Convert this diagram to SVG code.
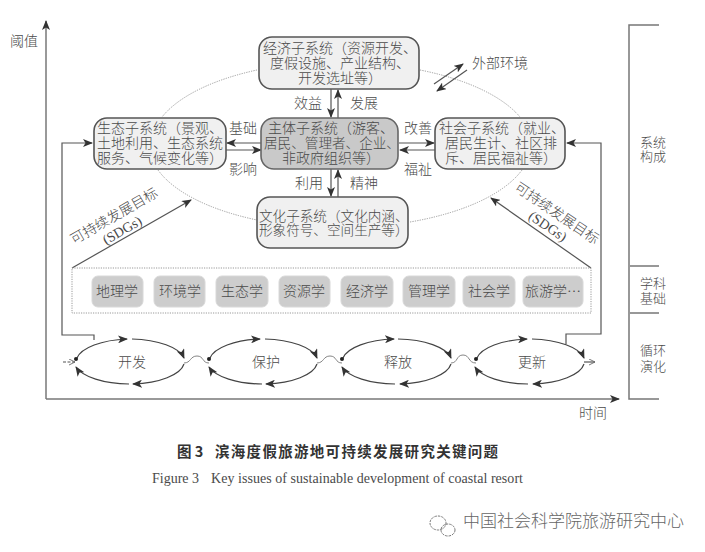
<svg xmlns="http://www.w3.org/2000/svg" width="705" height="552" viewBox="0 0 705 552">
<style>
text{font-family:"Noto Sans CJK SC","Liberation Serif",serif;fill:#4a4a4a;font-size:14px;font-weight:300}
.c{text-anchor:middle}
.s{font-family:"Liberation Serif",serif}
.box{fill:#f0f0f0;stroke:#555;stroke-width:1.6}
.dis{fill:#cdcdcd;stroke:#d8d8d8;stroke-width:1}
.ln{fill:none;stroke:#555;stroke-width:1.2}
.cy{fill:none;stroke:#444;stroke-width:1.2}
.bp{fill:none;stroke:#777;stroke-width:.9}
.dot{fill:none;stroke:#999;stroke-width:1;stroke-dasharray:1.2 1.2}
.ax{fill:none;stroke:#777;stroke-width:1.5}
</style>
<defs>
<marker id="a" viewBox="0 0 10 8" refX="9" refY="4" markerWidth="10" markerHeight="8" markerUnits="userSpaceOnUse" orient="auto"><path d="M0 0L10 4L0 8L2.5 4Z" fill="#333"/></marker>
<marker id="o" viewBox="0 0 8 8" refX="7" refY="4" markerWidth="7" markerHeight="7" markerUnits="userSpaceOnUse" orient="auto"><path d="M0 0.5L7 4L0 7.5" fill="none" stroke="#666"/></marker>
<path id="cyc" d="M1 -3.5A56 23 0 0 1 51 -23M56 -23A56 23 0 0 1 108 -4M108 2A56 23 0 0 1 59 22M53 22A56 23 0 0 1 0 6"/>
</defs>
<g id="connectors">
<path class="dot" d="M257 70A190 83 0 0 0 162 117M158 170A190 83 0 0 0 257 220M420 70A190 83 0 0 1 520 117M522 170A190 83 0 0 1 410 222"/>
<path class="ax" d="M46 399V21" marker-end="url(#a)"/>
<path class="ax" d="M46 399H619" marker-end="url(#a)"/>
<path class="ln" d="M331 89V117" marker-end="url(#a)"/><path class="ln" d="M338 118V90" marker-end="url(#a)"/>
<path class="ln" d="M261 143H227" marker-end="url(#a)"/><path class="ln" d="M226 150H261" marker-end="url(#a)"/>
<path class="ln" d="M399 143H434" marker-end="url(#a)"/><path class="ln" d="M435 150H400" marker-end="url(#a)"/>
<path class="ln" d="M331 169V196" marker-end="url(#a)"/><path class="ln" d="M338 197V170" marker-end="url(#a)"/>
<path class="ln" d="M434 84L463 64" marker-end="url(#a)"/><path class="ln" d="M467 70L437 91" marker-end="url(#a)"/>
<path class="ln" d="M94 340V335H62V143H92" marker-end="url(#a)"/>
<path class="ln" d="M566 344V334H601V143H567" marker-end="url(#a)"/>
<path class="ln" d="M72 268L191 200" marker-end="url(#a)"/>
<path class="ln" d="M591 268L491 198" marker-end="url(#a)"/>
<path class="dot" d="M72 268H591V313H72Z"/>
<g id="cycles">
<path class="cy" d="M77 358A56 23 0 0 1 127 339" marker-end="url(#a)"/><path class="cy" d="M132 339A56 23 0 0 1 184 358" marker-end="url(#a)"/><path class="cy" d="M184 364A56 23 0 0 1 133 384" marker-end="url(#a)"/><path class="cy" d="M129 384A56 23 0 0 1 76 367" marker-end="url(#a)"/>
<path class="cy" d="M210 358A56 23 0 0 1 260 339" marker-end="url(#a)"/><path class="cy" d="M265 339A56 23 0 0 1 317 358" marker-end="url(#a)"/><path class="cy" d="M317 364A56 23 0 0 1 266 384" marker-end="url(#a)"/><path class="cy" d="M262 384A56 23 0 0 1 209 367" marker-end="url(#a)"/>
<path class="cy" d="M343 358A56 23 0 0 1 394 339" marker-end="url(#a)"/><path class="cy" d="M398 339A56 23 0 0 1 451 358" marker-end="url(#a)"/><path class="cy" d="M451 364A56 23 0 0 1 400 384" marker-end="url(#a)"/><path class="cy" d="M395 384A56 23 0 0 1 342 367" marker-end="url(#a)"/>
<path class="cy" d="M477 358A56 23 0 0 1 527 339" marker-end="url(#a)"/><path class="cy" d="M532 339A56 23 0 0 1 584 358" marker-end="url(#a)"/><path class="cy" d="M584 364A56 23 0 0 1 533 384" marker-end="url(#a)"/><path class="cy" d="M528 384A56 23 0 0 1 475 367" marker-end="url(#a)"/>
<path class="bp" d="M184 363C191 363 190 356 197 356C204 356 202 363 209 363"/>
<path class="bp" d="M317 363C324 363 323 356 330 356C337 356 335 363 342 363"/>
<path class="bp" d="M451 363C458 363 456 355 463 355C470 355 468 363 476 363"/>
<path class="ln" d="M63 362H75" stroke-dasharray="3 1.5" marker-end="url(#o)"/>
<path class="ln" d="M584 362H595" marker-end="url(#o)"/>
<circle cx="76" cy="359" r="2" fill="#222"/><circle cx="209" cy="359" r="2" fill="#222"/><circle cx="342" cy="359" r="2" fill="#222"/><circle cx="476" cy="359" r="2" fill="#222"/>
</g>
<path class="ax" d="M659 25H629V399H659M630 266H659M630 313H659"/>
</g>
<g id="n-econ"><rect class="box" x="259" y="37" width="160" height="52" rx="13"/><text class="c"><tspan x="340" y="53">经济子系统（资源开发、</tspan><tspan x="340" y="68">度假设施、产业结构、</tspan><tspan x="340" y="83">开发选址等）</tspan></text></g>
<g id="n-eco"><rect class="box" x="94" y="118" width="132" height="51" rx="13"/><text><tspan x="97" y="133">生态子系统（景观、</tspan><tspan x="97" y="148">土地利用、生态系统</tspan><tspan x="97" y="163">服务、气候变化等）</tspan></text></g>
<g id="n-main"><rect x="261" y="118" width="137" height="51" rx="13" fill="#c9c9c9" stroke="#666" stroke-width="1.6"/><text class="c"><tspan x="331" y="133">主体子系统（游客、</tspan><tspan x="332" y="148" style="font-size:13.6px">居民、管理者、企业、</tspan><tspan x="331" y="163">非政府组织等）</tspan></text></g>
<g id="n-soc"><rect class="box" x="435" y="118" width="130" height="51" rx="13"/><text><tspan x="439" y="133">社会子系统（就业、</tspan><tspan x="445" y="148">居民生计、社区排</tspan><tspan x="445" y="163">斥、居民福祉等）</tspan></text></g>
<g id="n-cul"><rect class="box" x="257" y="197" width="151" height="51" rx="13"/><text style="font-size:13.6px"><tspan x="259" y="221">文化子系统（文化内涵、</tspan><tspan x="259" y="235">形象符号、空间生产等）</tspan></text></g>
<g id="labels">
<text x="10" y="46">阈值</text>
<text x="294" y="108">效益</text><text x="350" y="108">发展</text>
<text x="229" y="133">基础</text><text x="229" y="174">影响</text>
<text x="404" y="133">改善</text><text x="404" y="174">福祉</text>
<text x="295" y="188">利用</text><text x="350" y="188">精神</text>
<text x="472" y="68">外部环境</text>
<text class="c" y="5" transform="translate(114 216) rotate(-30)">可持续发展目标</text>
<text class="c s" y="5" transform="translate(122 230) rotate(-30)">(SDGs)</text>
<text class="c" y="5" transform="translate(557 213) rotate(34)">可持续发展目标</text>
<text class="c s" y="5" transform="translate(548 226) rotate(34)">(SDGs)</text>
<text x="579" y="418">时间</text>
</g>
<g id="disciplines">
<g id="d1"><rect class="dis" x="92" y="276" width="51" height="31" rx="6"/><text class="c" x="117" y="296">地理学</text></g>
<g id="d2"><rect class="dis" x="154" y="276" width="51" height="31" rx="6"/><text class="c" x="180" y="296">环境学</text></g>
<g id="d3"><rect class="dis" x="216" y="276" width="52" height="31" rx="6"/><text class="c" x="242" y="296">生态学</text></g>
<g id="d4"><rect class="dis" x="279" y="276" width="51" height="31" rx="6"/><text class="c" x="304" y="296">资源学</text></g>
<g id="d5"><rect class="dis" x="341" y="276" width="52" height="31" rx="6"/><text class="c" x="367" y="296">经济学</text></g>
<g id="d6"><rect class="dis" x="403" y="276" width="52" height="31" rx="6"/><text class="c" x="429" y="296">管理学</text></g>
<g id="d7"><rect class="dis" x="463" y="276" width="52" height="31" rx="6"/><text class="c" x="489" y="296">社会学</text></g>
<g id="d8"><rect class="dis" x="523" y="276" width="60" height="31" rx="6"/><text class="c" x="553" y="296">旅游学…</text></g>
</g>
<g id="phases">
<text class="c" x="132" y="367">开发</text><text class="c" x="266" y="367">保护</text><text class="c" x="398" y="367">释放</text><text class="c" x="532" y="367">更新</text>
</g>
<g id="side">
<text x="640" y="147" style="font-size:13px">系统</text><text x="640" y="161" style="font-size:13px">构成</text>
<text x="640" y="288" style="font-size:13px">学科</text><text x="640" y="303" style="font-size:13px">基础</text>
<text x="640" y="355" style="font-size:13px">循环</text><text x="640" y="371" style="font-size:13px">演化</text>
</g>
<g id="caption">
<text x="177" y="457" style="font-weight:700;font-size:14.5px;fill:#333">图 3</text>
<text x="215" y="457" style="font-weight:700;font-size:14.5px;letter-spacing:1.3px;fill:#333">滨海度假旅游地可持续发展研究关键问题</text>
<text class="s" x="152" y="483" textLength="47">Figure 3</text>
<text class="s" x="211" y="483" textLength="312">Key issues of sustainable development of coastal resort</text>
</g>
<g id="watermark">
<g fill="none" stroke="#777" stroke-width="1" stroke-dasharray="2.5 1"><ellipse cx="438" cy="523" rx="8" ry="7"/><ellipse cx="448" cy="530" rx="7" ry="6"/></g>
<text x="463" y="527" style="font-size:17px;fill:#666">中国社会科学院旅游研究中心</text>
</g>
</svg>
